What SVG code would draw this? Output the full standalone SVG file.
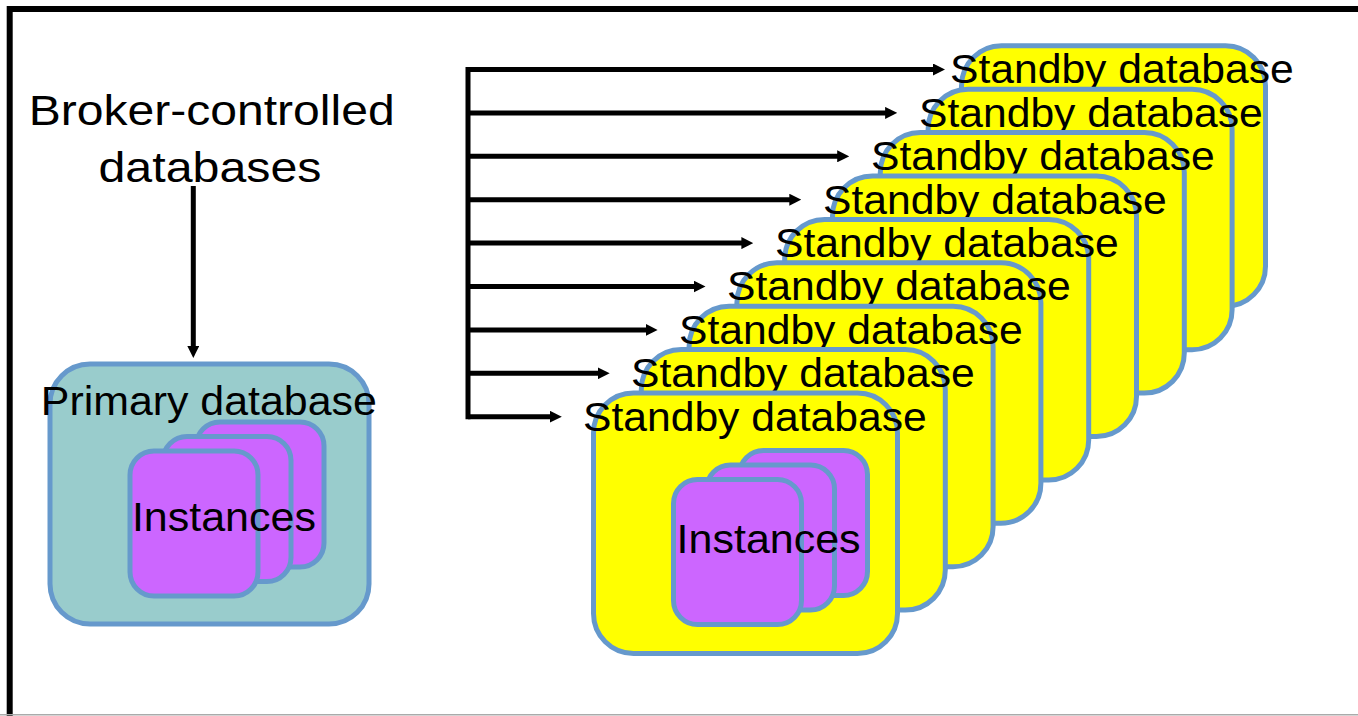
<svg xmlns="http://www.w3.org/2000/svg" width="1358" height="716" viewBox="0 0 1358 716">
  <style>
    .lbl { font-family: "Liberation Sans", Arial, sans-serif; fill: #000; }
    .db-primary { fill: #99CCCC; stroke: #6699CC; stroke-width: 5; }
    .db-standby { fill: #FFFF00; stroke: #6699CC; stroke-width: 5; }
    .inst { fill: #CC66FF; stroke: #6699CC; stroke-width: 5; }
    .wire { fill: none; stroke: #000; stroke-width: 5; stroke-linejoin: miter; }
  </style>
  <defs>
    <marker id="head" markerUnits="userSpaceOnUse" markerWidth="12" markerHeight="12" refX="4" refY="6" orient="auto">
      <path d="M0,0 L12,6 L0,12 z" fill="#000"/>
    </marker>
    <!-- a stack of three instance cards, back to front -->
    <g id="instances">
      <rect class="inst" x="66" y="-29" width="128" height="145" rx="24"/>
      <rect class="inst" x="33" y="-14.5" width="128" height="145" rx="24"/>
      <rect class="inst" x="0" y="0" width="128" height="145" rx="24"/>
    </g>
  </defs>

  <rect width="1358" height="716" fill="#fff"/>
  <!-- frame -->
  <path d="M9.7,716 V9 H1358" fill="none" stroke="#000" stroke-width="6"/>
  <line x1="0" y1="714.8" x2="1358" y2="714.8" stroke="#aaaaaa" stroke-width="1.5"/>

  <g id="broker">
    <text class="lbl" x="28.7" y="125" font-size="42" textLength="366" lengthAdjust="spacingAndGlyphs">Broker-controlled</text>
    <text class="lbl" x="98.5" y="181.7" font-size="42" textLength="223" lengthAdjust="spacingAndGlyphs">databases</text>
  </g>

  <g id="primary">
    <rect class="db-primary" x="50" y="364" width="319" height="260" rx="40"/>
    <text class="lbl" x="40.8" y="415" font-size="41" textLength="336" lengthAdjust="spacingAndGlyphs">Primary database</text>
    <use href="#instances" x="130" y="451"/>
    <text class="lbl" x="131.9" y="531" font-size="41" textLength="184" lengthAdjust="spacingAndGlyphs">Instances</text>
  </g>

  <g id="standby-stack">
    <g id="standby-1">
      <rect class="db-standby" x="961.5" y="45.8" width="304" height="260.5" rx="40"/>
      <text class="lbl" x="950" y="83.3" font-size="41" textLength="343.7" lengthAdjust="spacingAndGlyphs">Standby database</text>
    </g>
    <g id="standby-2">
      <rect class="db-standby" x="928.1" y="89.2" width="304" height="260.5" rx="40"/>
      <text class="lbl" x="919" y="126.7" font-size="41" textLength="343.7" lengthAdjust="spacingAndGlyphs">Standby database</text>
    </g>
    <g id="standby-3">
      <rect class="db-standby" x="880.3" y="132.6" width="304" height="260.5" rx="40"/>
      <text class="lbl" x="871" y="170.1" font-size="41" textLength="343.7" lengthAdjust="spacingAndGlyphs">Standby database</text>
    </g>
    <g id="standby-4">
      <rect class="db-standby" x="832.5" y="176" width="304" height="260.5" rx="40"/>
      <text class="lbl" x="823" y="213.5" font-size="41" textLength="343.7" lengthAdjust="spacingAndGlyphs">Standby database</text>
    </g>
    <g id="standby-5">
      <rect class="db-standby" x="784.7" y="219.4" width="304" height="260.5" rx="40"/>
      <text class="lbl" x="775" y="256.9" font-size="41" textLength="343.7" lengthAdjust="spacingAndGlyphs">Standby database</text>
    </g>
    <g id="standby-6">
      <rect class="db-standby" x="736.9" y="262.8" width="304" height="260.5" rx="40"/>
      <text class="lbl" x="727" y="300.3" font-size="41" textLength="343.7" lengthAdjust="spacingAndGlyphs">Standby database</text>
    </g>
    <g id="standby-7">
      <rect class="db-standby" x="689.1" y="306.2" width="304" height="260.5" rx="40"/>
      <text class="lbl" x="679" y="343.7" font-size="41" textLength="343.7" lengthAdjust="spacingAndGlyphs">Standby database</text>
    </g>
    <g id="standby-8">
      <rect class="db-standby" x="641.3" y="349.6" width="304" height="260.5" rx="40"/>
      <text class="lbl" x="631" y="387.1" font-size="41" textLength="343.7" lengthAdjust="spacingAndGlyphs">Standby database</text>
    </g>
    <g id="standby-9">
      <rect class="db-standby" x="593.5" y="393" width="304" height="260.5" rx="40"/>
      <text class="lbl" x="583" y="430.5" font-size="41" textLength="343.7" lengthAdjust="spacingAndGlyphs">Standby database</text>
      <use href="#instances" x="673.5" y="479.5"/>
      <text class="lbl" x="676.6" y="552.7" font-size="41" textLength="184" lengthAdjust="spacingAndGlyphs">Instances</text>
    </g>
  </g>

  <g id="connectors">
    <path class="wire" d="M193.3,186 V350" marker-end="url(#head)"/>
    <path class="wire" d="M468,419.2 V69.5 H937" marker-end="url(#head)"/>
    <path class="wire" d="M468,112.9 H889.1" marker-end="url(#head)"/>
    <path class="wire" d="M468,156.3 H841.2" marker-end="url(#head)"/>
    <path class="wire" d="M468,199.7 H793.3" marker-end="url(#head)"/>
    <path class="wire" d="M468,243.1 H745.4" marker-end="url(#head)"/>
    <path class="wire" d="M468,286.5 H697.5" marker-end="url(#head)"/>
    <path class="wire" d="M468,329.9 H649.6" marker-end="url(#head)"/>
    <path class="wire" d="M468,373.3 H601.7" marker-end="url(#head)"/>
    <path class="wire" d="M468,416.7 H553.8" marker-end="url(#head)"/>
  </g>
</svg>
